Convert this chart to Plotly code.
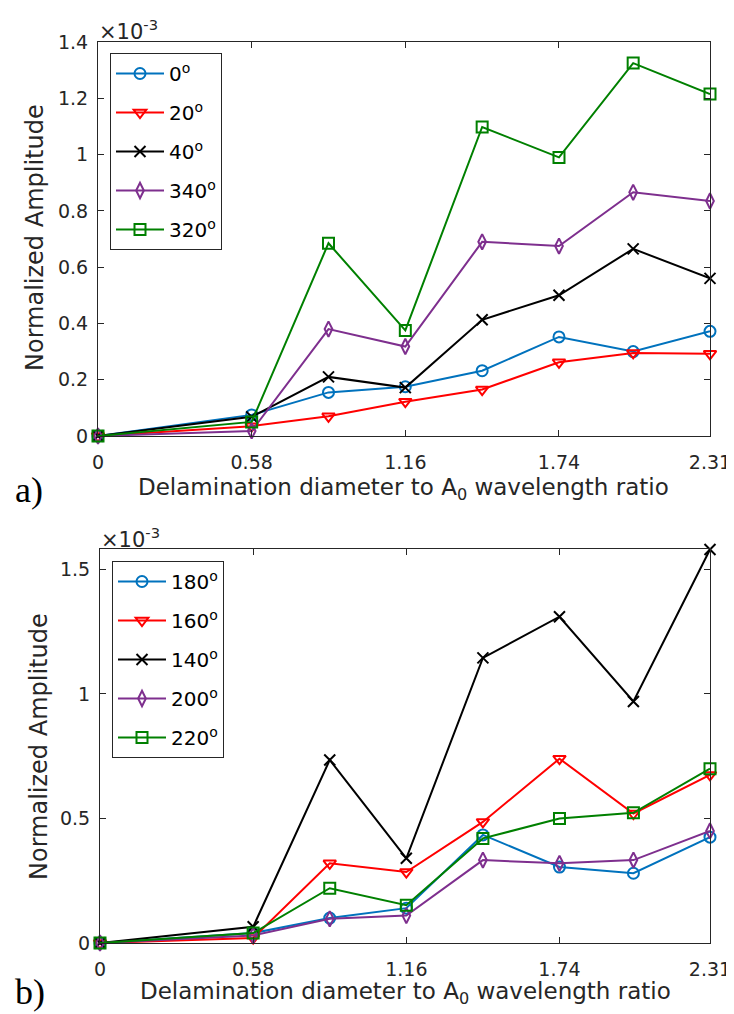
import plotly.graph_objects as go

# ---------------- data ----------------
x_ratio = [0, 0.58, 0.87, 1.16, 1.45, 1.74, 2.02, 2.31]
x_tickvals = [0, 0.58, 1.16, 1.74, 2.31]
x_ticktext = ["0", "0.58", "1.16", "1.74", "2.31"]

# panel a) amplitudes in units of 1e-3
names_a = ["0<sup>o</sup>", "20<sup>o</sup>", "40<sup>o</sup>", "340<sup>o</sup>", "320<sup>o</sup>"]
amp_a_0 = [0, 0.075, 0.155, 0.175, 0.232, 0.352, 0.300, 0.372]
amp_a_20 = [0, 0.035, 0.070, 0.122, 0.165, 0.262, 0.295, 0.292]
amp_a_40 = [0, 0.068, 0.210, 0.172, 0.413, 0.500, 0.665, 0.560]
amp_a_340 = [0, 0.018, 0.380, 0.318, 0.690, 0.675, 0.866, 0.835]
amp_a_320 = [0, 0.050, 0.685, 0.375, 1.098, 0.990, 1.325, 1.215]

# panel b) amplitudes in units of 1e-3
names_b = ["180<sup>o</sup>", "160<sup>o</sup>", "140<sup>o</sup>", "200<sup>o</sup>", "220<sup>o</sup>"]
amp_b_180 = [0, 0.040, 0.100, 0.140, 0.434, 0.305, 0.280, 0.425]
amp_b_160 = [0, 0.020, 0.320, 0.285, 0.486, 0.740, 0.520, 0.675]
amp_b_140 = [0, 0.065, 0.735, 0.340, 1.145, 1.310, 0.970, 1.580]
amp_b_200 = [0, 0.030, 0.097, 0.110, 0.333, 0.320, 0.333, 0.450]
amp_b_220 = [0, 0.040, 0.220, 0.152, 0.420, 0.500, 0.523, 0.700]

y_ticks_a = [0, 0.2, 0.4, 0.6, 0.8, 1.0, 1.2, 1.4]
y_ticktext_a = ["0", "0.2", "0.4", "0.6", "0.8", "1", "1.2", "1.4"]
y_ticks_b = [0, 0.5, 1.0, 1.5]
y_ticktext_b = ["0", "0.5", "1", "1.5"]

x_title = "Delamination diameter to A<sub>0</sub> wavelength ratio"
y_title = "Normalized Amplitude"
exponent_label = "×10<sup>-3</sup>"
panel_labels = ["a)", "b)"]

# ---------------- style ----------------
colors = ["#0072BD", "#FF0000", "#000000", "#7E2F8E", "#008000"]
symbols = ["circle-open", "triangle-down-open", "x-thin-open", "diamond-tall-open", "square-open"]
VIEW_W, VIEW_H = 734, 1014
OFF = 8  # page body margin of the html page
W, H = VIEW_W - OFF, VIEW_H - OFF
AX = "#262626"
FONT = "DejaVu Sans, Verdana, sans-serif"
SERIF = "Liberation Serif, Times New Roman, serif"


def px_x(p):
    return (p - OFF) / W


def px_y(p):
    return 1 - (p - OFF) / H


fig = go.Figure()

series_a = [amp_a_0, amp_a_20, amp_a_40, amp_a_340, amp_a_320]
series_b = [amp_b_180, amp_b_160, amp_b_140, amp_b_200, amp_b_220]

for panel, (names, series, xa, ya, lg) in enumerate([
        (names_a, series_a, "x", "y", "legend"),
        (names_b, series_b, "x2", "y2", "legend2")]):
    for i, (nm, ys) in enumerate(zip(names, series)):
        fig.add_trace(go.Scatter(
            x=x_ratio, y=ys, name=nm, mode="lines+markers",
            line=dict(color=colors[i], width=2),
            marker=dict(symbol=symbols[i], size=11, color=colors[i],
                        line=dict(width=2, color=colors[i])),
            xaxis=xa, yaxis=ya, legend=lg, legendgroup="%d_%d" % (panel, i),
            cliponaxis=False))

axis_common = dict(
    showline=True, linecolor=AX, linewidth=1, mirror="ticks",
    ticks="inside", ticklen=6, tickwidth=1, tickcolor=AX,
    showgrid=False, zeroline=False, automargin=False,
    tickfont=dict(family=FONT, size=19, color=AX),
)

legend_common = dict(
    xanchor="left", yanchor="top",
    bordercolor=AX, borderwidth=1, bgcolor="white",
    font=dict(family=FONT, size=20, color="#000000"),
    traceorder="grouped", tracegroupgap=10, itemwidth=48,
)

fig.update_layout(
    width=W, height=H,
    margin=dict(l=0, r=0, t=0, b=0),
    paper_bgcolor="white", plot_bgcolor="white",
    font=dict(family=FONT, color=AX),
    xaxis=dict(domain=[px_x(98), px_x(710)], range=[0, 2.31], anchor="y",
               tickvals=x_tickvals, ticktext=x_ticktext,
               ticklabelstandoff=9, **axis_common),
    yaxis=dict(domain=[px_y(436), px_y(42)], range=[0, 1.4], anchor="x",
               tickvals=y_ticks_a, ticktext=y_ticktext_a,
               ticklabelstandoff=5, **axis_common),
    xaxis2=dict(domain=[px_x(100), px_x(710)], range=[0, 2.31], anchor="y2",
                tickvals=x_tickvals, ticktext=x_ticktext,
                ticklabelstandoff=9, **axis_common),
    yaxis2=dict(domain=[px_y(943), px_y(549)], range=[0, 1.582], anchor="x2",
                tickvals=y_ticks_b, ticktext=y_ticktext_b,
                ticklabelstandoff=5, **axis_common),
    legend=dict(x=px_x(110), y=px_y(53), **legend_common),
    legend2=dict(x=px_x(112), y=px_y(561), **legend_common),
    showlegend=True,
)

# axis titles (placed as annotations for exact positioning)
for xc, yc in [(404, 489), (405, 993)]:
    fig.add_annotation(text=x_title, xref="paper", yref="paper",
                       x=px_x(xc), y=px_y(yc), xanchor="center", yanchor="middle",
                       showarrow=False, font=dict(family=FONT, size=23, color=AX))
for xc, yc in [(35, 238), (39, 747)]:
    fig.add_annotation(text=y_title, xref="paper", yref="paper",
                       x=px_x(xc), y=px_y(yc), xanchor="center", yanchor="middle",
                       textangle=-90, showarrow=False,
                       font=dict(family=FONT, size=24, color=AX))

# exponent labels
for xl, yc in [(97, 30), (99, 538)]:
    fig.add_annotation(text=exponent_label, xref="paper", yref="paper",
                       x=px_x(xl), y=px_y(yc), xanchor="left", yanchor="middle",
                       showarrow=False, font=dict(family=FONT, size=21, color=AX))

# panel labels
for lbl, yc in zip(panel_labels, [490, 992]):
    fig.add_annotation(text=lbl, xref="paper", yref="paper",
                       x=px_x(13), y=px_y(yc), xanchor="left", yanchor="middle",
                       showarrow=False,
                       font=dict(family=SERIF, size=36, color="#000000"))

fig.write_html("out.html")
